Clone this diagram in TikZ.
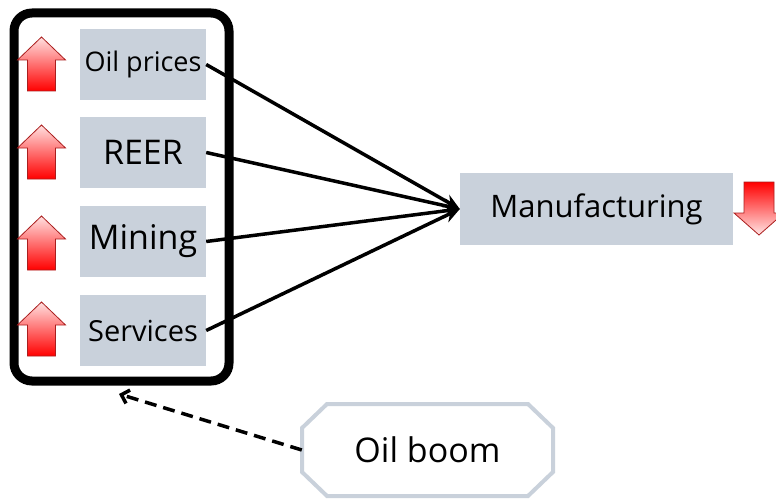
\documentclass[tikz,border=0pt]{standalone}
\usepackage{fontspec}
\setmainfont{Open Sans}
\usetikzlibrary{arrows.meta}
\definecolor{boxgray}{RGB}{201,209,219}
\definecolor{arrowrim}{RGB}{170,30,30}
\tikzset{
  factor/.style={fill=boxgray, minimum width=126pt, minimum height=71pt, inner sep=0pt},
  uparr/.style={top color=red!12!white, bottom color=red, draw=arrowrim, line width=0.8pt},
  downarr/.style={top color=red, bottom color=red!10!white, draw=arrowrim, line width=0.8pt},
  link/.style={line width=3.5pt, -{Stealth[length=16pt,width=14pt]}}
}
\newcommand{\redup}[2]{%
  \draw[uparr] (#1,#2) -- ++(24,23) -- ++(-10,0) -- ++(0,31) -- ++(-28,0)
    -- ++(0,-31) -- ++(-10,0) -- cycle;}
\begin{document}
\begin{tikzpicture}[x=1pt,y=-1pt]
  \useasboundingbox (0,0) rectangle (776,500);
  % the group of rising factors
  \node[draw, line width=9pt, rounded corners=18pt, minimum width=215pt, minimum height=368pt] (group) at (121.5,197) {};
  \node[factor, font=\fontsize{27}{32}\selectfont] (oil) at (143,64.5) {Oil prices};
  \node[factor, font=\fontsize{34}{39}\selectfont] (reer) at (143,152.5) {REER};
  \node[factor, font=\fontsize{34}{39}\selectfont] (mining) at (143,241.5) {Mining};
  \node[factor, font=\fontsize{29}{34}\selectfont] (services) at (143,330.5) {Services};
  \redup{41.5}{37}
  \redup{41.5}{125}
  \redup{41.5}{216}
  \redup{41.5}{302}
  % manufacturing falls
  \node[factor, minimum width=273pt, minimum height=72pt, font=\fontsize{31}{36}\selectfont] (manu) at (596.5,209) {Manufacturing};
  \draw[downarr] (744,182) -- ++(30,0) -- ++(0,31) -- ++(10,0) -- ++(-25,22)
    -- ++(-25,-22) -- ++(10,0) -- cycle;
  \draw[link] (oil.east) -- (manu.west);
  \draw[link] (reer.east) -- (manu.west);
  \draw[link] (mining.east) -- (manu.west);
  \draw[link] (services.east) -- (manu.west);
  % the cause
  \draw[boxgray, line width=4pt, fill=white] (302,428) -- (327,404) -- (528,404) -- (553,428)
    -- (553,472) -- (528,496) -- (327,496) -- (302,472) -- cycle;
  \node[inner sep=0pt, minimum width=251pt, minimum height=92pt, font=\fontsize{34}{40}\selectfont] (boom) at (427.5,450) {Oil boom};
  \coordinate (grptip) at (119,394);
  \draw[line width=3.5pt, dash pattern=on 12pt off 7pt, -{Straight Barb[length=7pt,width=14pt]}] (boom.west) -- (grptip);
\end{tikzpicture}
\end{document}
